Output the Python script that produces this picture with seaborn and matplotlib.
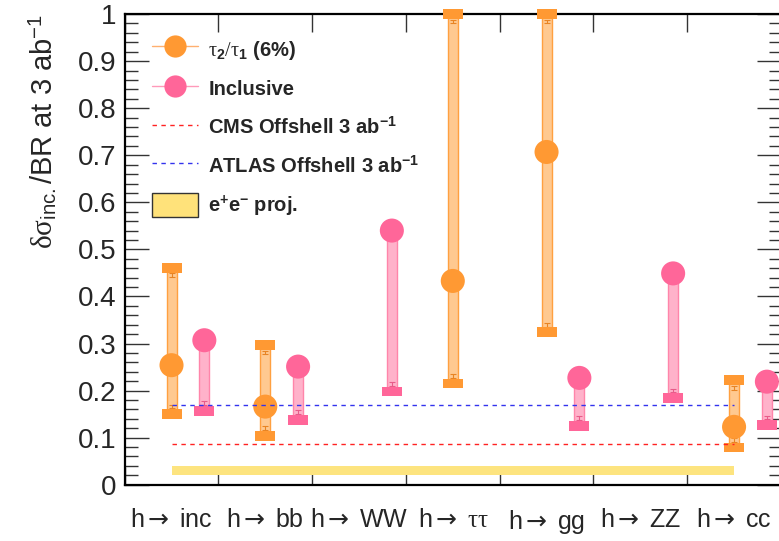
import numpy as np
import pandas as pd
import matplotlib
matplotlib.use("Agg")
import matplotlib.pyplot as plt
import seaborn as sns
from matplotlib.lines import Line2D
from matplotlib.patches import Patch

# ---- data -------------------------------------------------------------
ARROW = r"$\mathsf{\rightarrow}$"
channels = ["h" + ARROW + " inc", "h" + ARROW + " bb", "h" + ARROW + " WW",
            "h" + ARROW + r" $\mathrm{\tau\tau}$", "h" + ARROW + " gg",
            "h" + ARROW + " ZZ", "h" + ARROW + " cc"]

# tau2/tau1 (6%) selection: central value with lower / upper range
tau21_central = [0.254, 0.166, np.nan, 0.433, 0.707, np.nan, 0.123]
tau21_low = [0.150, 0.104, np.nan, 0.215, 0.324, np.nan, 0.079]
tau21_high = [0.461, 0.297, np.nan, 1.000, 1.000, np.nan, 0.222]

# inclusive: central value with lower range
incl_central = [0.307, 0.251, 0.540, np.nan, 0.227, 0.449, 0.219]
incl_low = [0.157, 0.138, 0.198, np.nan, 0.125, 0.184, 0.127]

cms_offshell = 0.086
atlas_offshell = 0.170
ee_proj_low, ee_proj_high = 0.020, 0.040

yticks = [0, 0.1, 0.2, 0.3, 0.4, 0.5, 0.6, 0.7, 0.8, 0.9, 1.0]
ytick_labels = ["0", "0.1", "0.2", "0.3", "0.4", "0.5", "0.6", "0.7", "0.8", "0.9", "1"]

# ---- style ------------------------------------------------------------
sns.set_style("ticks")
plt.rcParams["font.family"] = ["Liberation Sans", "DejaVu Sans"]
plt.rcParams["mathtext.fontset"] = "custom"
plt.rcParams["mathtext.rm"] = "Liberation Serif"
plt.rcParams["mathtext.it"] = "Liberation Serif:italic"
plt.rcParams["mathtext.sf"] = "DejaVu Sans"
plt.rcParams["mathtext.bf"] = "Liberation Sans:bold"

ORANGE = "#FF9933"
ORANGE_FILL = "#FFC990"
ORANGE_EDGE = "#FFA040"
PINK = "#FF6699"
PINK_FILL = "#FFB2CA"
PINK_EDGE = "#FF85AA"
YELLOW = "#FDE47F"

fig = plt.figure(figsize=(7.79, 5.41), dpi=100)
ax = fig.add_axes([0.160, 0.104, 0.8425, 0.870])

idx = np.arange(len(channels))
x_tau = idx + 0.5
x_inc = idx + 0.85

t_c = np.array(tau21_central)
t_lo = np.array(tau21_low)
t_hi = np.array(tau21_high)
i_c = np.array(incl_central)
i_lo = np.array(incl_low)

bar_w = 0.107
cap_w = 0.213
cap_h = 0.021
tick_off = 0.016

# e+e- projection band
ax.fill_between([0.5, 6.5], ee_proj_low, ee_proj_high, color=YELLOW, lw=0, zorder=1)

# range boxes
mt = ~np.isnan(t_c)
ax.bar(x_tau[mt], t_hi[mt] - t_lo[mt], bottom=t_lo[mt], width=bar_w,
       color=ORANGE_FILL, edgecolor=ORANGE_EDGE, lw=1, zorder=2)
mi = ~np.isnan(i_c)
ax.bar(x_inc[mi], i_c[mi] - i_lo[mi], bottom=i_lo[mi], width=bar_w,
       color=PINK_FILL, edgecolor=PINK_EDGE, lw=1, zorder=2)

# small end markers just inside each box
ax.errorbar(np.concatenate([x_tau[mt], x_tau[mt]]),
            np.concatenate([t_lo[mt] + tick_off, t_hi[mt] - tick_off]),
            yerr=0.004, fmt="none", ecolor="#E88424", elinewidth=0.8,
            capsize=2, capthick=0.8, zorder=2.5)
ax.errorbar(x_inc[mi], i_lo[mi] + tick_off, yerr=0.004, fmt="none",
            ecolor="#E85C8A", elinewidth=0.8, capsize=2, capthick=0.8, zorder=2.5)

# end caps
for ends in (t_lo[mt], t_hi[mt]):
    caps = ax.bar(x_tau[mt], cap_h, bottom=ends - cap_h / 2, width=cap_w,
                  color=ORANGE, lw=0, zorder=3)
    for p in caps:
        p.set_clip_on(False)
ax.bar(x_inc[mi], cap_h, bottom=i_lo[mi] - cap_h / 2, width=cap_w,
       color=PINK, lw=0, zorder=3)

# central values
points = pd.DataFrame({
    "pos": np.concatenate([x_tau[mt], x_inc[mi]]),
    "value": np.concatenate([t_c[mt], i_c[mi]]),
    "series": ["tau21"] * mt.sum() + ["inclusive"] * mi.sum(),
})
sns.scatterplot(data=points, x="pos", y="value", hue="series",
                palette={"tau21": ORANGE, "inclusive": PINK}, s=300,
                edgecolor="none", legend=False, zorder=4, ax=ax)

# reference lines
ax.hlines(cms_offshell, 0.5, 6.5, colors="#FF2222", linestyles=(0, (3.2, 3.2)), lw=1.0, zorder=5)
ax.hlines(atlas_offshell, 0.5, 6.5, colors="#3333EE", linestyles=(0, (3.2, 3.2)), lw=1.0, zorder=5)

# axes
ax.set_xlim(0, 7)
ax.set_ylim(0, 1)
ax.set_xlabel("")
ax.set_ylabel(r"$\mathrm{\delta\sigma}_{\mathregular{inc.}}$/BR at 3 ab$^{\mathregular{-1}}$",
              fontsize=21, loc="top")
ax.yaxis.set_label_coords(-0.10, 1.0)

ax.set_xticks(np.arange(0, 8))
ax.set_xticklabels([])
ax.set_xticks(x_tau, channels, minor=True)
ax.tick_params(axis="x", which="major", direction="in", length=13, width=1,
               top=True, bottom=True, color="#333333")
ax.tick_params(axis="x", which="minor", length=0, pad=17, labelsize=18)

ax.set_yticks(yticks, ytick_labels)
ax.set_yticks(np.arange(0, 1.001, 0.02), minor=True)
ax.tick_params(axis="y", which="major", direction="in", length=17, width=1,
               left=True, right=True, labelsize=20, pad=6, color="#333333")
ax.tick_params(axis="y", which="minor", direction="in", length=9, width=1,
               left=True, right=True, color="#333333")

for s in ax.spines.values():
    s.set_linewidth(1.6)
    s.set_color("black")
    s.set_visible(True)

# legend
handles = [
    Line2D([0], [0], color="#FFB070", lw=1, marker="o", markersize=16,
           markerfacecolor=ORANGE, markeredgecolor="none"),
    Line2D([0], [0], color="#FF9ABA", lw=1, marker="o", markersize=16,
           markerfacecolor=PINK, markeredgecolor="none"),
    Line2D([0], [0], color="#FF2222", lw=1, ls=(0, (3.2, 3.2))),
    Line2D([0], [0], color="#3333EE", lw=1, ls=(0, (3.2, 3.2))),
    Patch(facecolor="#FFE27A", edgecolor="#333333", lw=1),
]
labels = [
    r"$\mathrm{\tau}_{\mathbf{2}}/\mathrm{\tau}_{\mathbf{1}}$ (6%)",
    "Inclusive",
    r"CMS Offshell 3 ab$^{\mathbf{-1}}$",
    r"ATLAS Offshell 3 ab$^{\mathbf{-1}}$",
    r"e$^{\mathbf{+}}$e$^{\mathbf{-}}$ proj.",
]
ax.legend(handles, labels, loc="upper left",
          bbox_to_anchor=(152 / 779, 1 - 37 / 541), bbox_transform=fig.transFigure,
          frameon=False, borderpad=0, borderaxespad=0, handlelength=2.3,
          handleheight=1.45, handletextpad=0.5, labelspacing=0.74,
          prop={"family": "Liberation Sans", "weight": "bold", "size": 14.5})

fig.savefig("out.png", dpi=100)
